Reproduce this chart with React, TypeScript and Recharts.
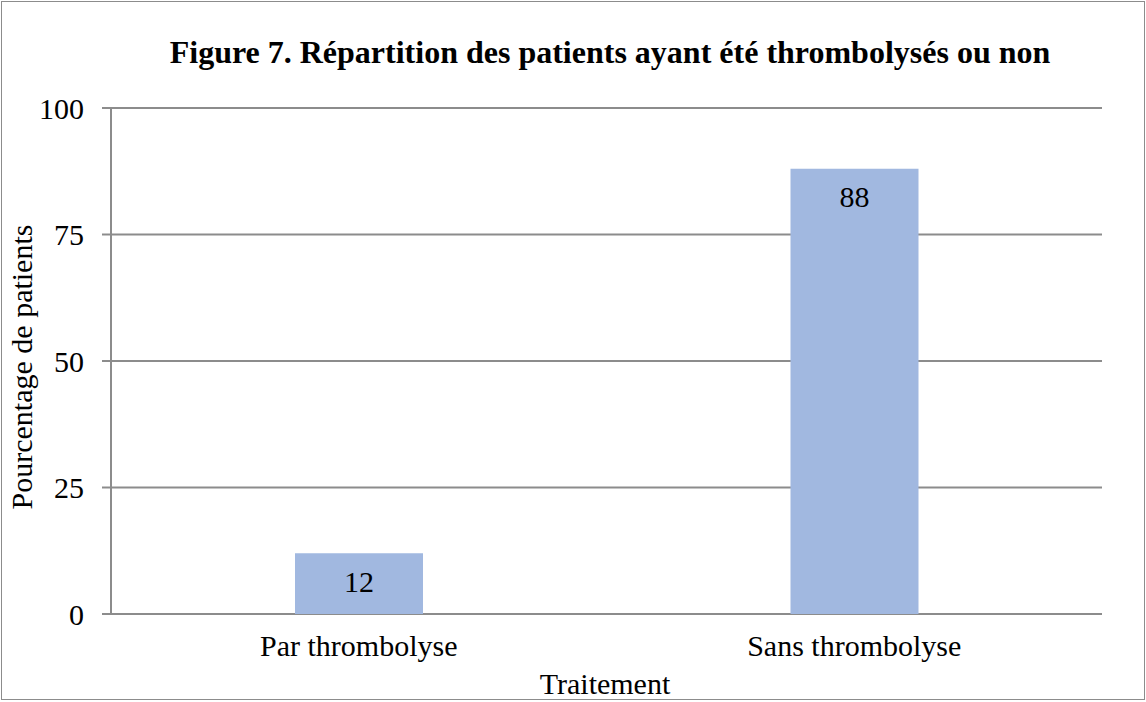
import React from 'react';
import { BarChart, Bar, XAxis, YAxis, CartesianGrid, LabelList } from 'recharts';

const categories = ['Par thrombolyse', 'Sans thrombolyse'];
const values = [12, 88];
const yTicks = [0, 25, 50, 75, 100];
const edgeTicks = [0, 1, 2];

const data = categories.map((c, i) => ({ name: c, value: values[i] }));

const FONT = '"Liberation Serif", "Times New Roman", serif';
const GRAY = '#8C8C8C';

export default function App() {
  return (
    <div style={{ position: 'absolute', left: 0, top: 0, width: 1146, height: 702, background: '#fff', fontFamily: FONT }}>
      <BarChart
        width={1146}
        height={702}
        data={data}
        margin={{ top: 108, right: 44, bottom: 0, left: 0 }}
      >
        <CartesianGrid horizontal vertical={false} stroke={GRAY} strokeWidth={2} yAxisId="y" xAxisId="cat" />
        <XAxis
          xAxisId="edge"
          type="number"
          domain={[0, 2]}
          ticks={edgeTicks}
          height={0}
          tick={false}
          tickSize={8}
          stroke={GRAY}
          strokeWidth={2}
          axisLine={{ stroke: GRAY, strokeWidth: 2 }}
          tickLine={{ stroke: GRAY, strokeWidth: 2 }}
        />
        <XAxis
          xAxisId="cat"
          dataKey="name"
          height={88}
          axisLine={false}
          tickLine={false}
          tickMargin={15}
          tick={{ fill: '#000', fontSize: 30, fontFamily: FONT }}
        />
        <YAxis
          yAxisId="y"
          width={111}
          domain={[0, 100]}
          ticks={yTicks}
          tickSize={9}
          tickMargin={18}
          axisLine={{ stroke: GRAY, strokeWidth: 2 }}
          tickLine={{ stroke: GRAY, strokeWidth: 2 }}
          tick={{ fill: '#000', fontSize: 30, fontFamily: FONT }}
        />
        <Bar dataKey="value" xAxisId="cat" yAxisId="y" fill="#A1B8E0" barSize={128} isAnimationActive={false}>
          <LabelList dataKey="value" position="insideTop" offset={17} fill="#000" fontSize={30} fontFamily={FONT} />
        </Bar>
      </BarChart>
      <div style={{ position: 'absolute', left: 1, top: 1, width: 1142, height: 697, border: `1.5px solid ${GRAY}`, boxSizing: 'content-box', pointerEvents: 'none' }} />
      <div style={{ position: 'absolute', left: 110, top: 35, width: 1000, textAlign: 'center', fontSize: 32, fontWeight: 'bold', lineHeight: '34px', color: '#000' }}>
        Figure 7. Répartition des patients ayant été thrombolysés ou non
      </div>
      <div style={{ position: 'absolute', left: 405, top: 668, width: 400, textAlign: 'center', fontSize: 30, lineHeight: '32px', color: '#000' }}>
        Traitement
      </div>
      <div style={{ position: 'absolute', left: 22 - 200, top: 367 - 16, width: 400, textAlign: 'center', fontSize: 30, lineHeight: '32px', color: '#000', transform: 'rotate(-90deg)' }}>
        Pourcentage de patients
      </div>
    </div>
  );
}
